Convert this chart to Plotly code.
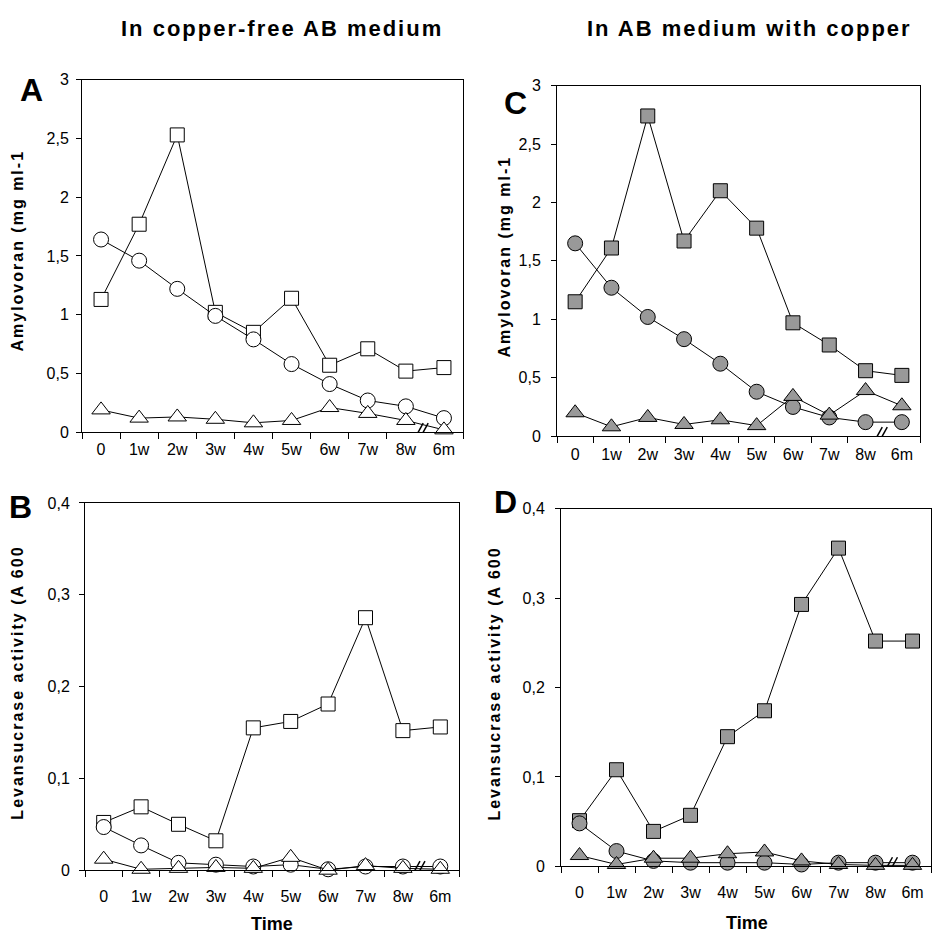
import plotly.graph_objects as go

# ---------------- data ----------------
time_labels = ["0", "1w", "2w", "3w", "4w", "5w", "6w", "7w", "8w", "6m"]

# Panel A: amylovoran, copper-free AB medium
amy_free_square = [1.13, 1.77, 2.53, 1.02, 0.85, 1.14, 0.57, 0.71, 0.52, 0.55]
amy_free_circle = [1.64, 1.46, 1.22, 0.99, 0.79, 0.58, 0.41, 0.27, 0.22, 0.12]
amy_free_triangle = [0.19, 0.12, 0.13, 0.11, 0.08, 0.10, 0.21, 0.16, 0.10, 0.02]

# Panel B: levansucrase, copper-free AB medium
lev_free_square = [0.052, 0.069, 0.050, 0.032, 0.155, 0.162, 0.181, 0.275, 0.152, 0.156]
lev_free_circle = [0.047, 0.027, 0.008, 0.006, 0.004, 0.006, 0.001, 0.004, 0.004, 0.004]
lev_free_triangle = [0.012, 0.001, 0.002, 0.003, 0.002, 0.014, 0.000, 0.005, 0.002, 0.001]

# Panel C: amylovoran, AB medium with copper
amy_cu_square = [1.15, 1.61, 2.74, 1.67, 2.10, 1.78, 0.97, 0.78, 0.56, 0.52]
amy_cu_circle = [1.65, 1.27, 1.02, 0.83, 0.62, 0.38, 0.25, 0.16, 0.12, 0.12]
amy_cu_triangle = [0.20, 0.08, 0.16, 0.10, 0.14, 0.09, 0.34, 0.18, 0.39, 0.26]

# Panel D: levansucrase, AB medium with copper
lev_cu_square = [0.051, 0.108, 0.039, 0.057, 0.145, 0.174, 0.293, 0.356, 0.252, 0.252]
lev_cu_circle = [0.048, 0.017, 0.006, 0.004, 0.004, 0.004, 0.002, 0.004, 0.004, 0.004]
lev_cu_triangle = [0.012, 0.002, 0.009, 0.009, 0.014, 0.016, 0.006, 0.002, 0.001, 0.001]

panel_letters = ["A", "B", "C", "D"]
column_titles = ["In copper-free AB medium", "In AB medium with copper"]
amy_title = "Amylovoran (mg ml-1"
lev_title = "Levansucrase activity (A 600"
x_title = "Time"

# ---------------- layout ----------------
W, H = 934, 944
FONT = "Arial, Liberation Sans, sans-serif"
x_idx = list(range(len(time_labels)))


def px_x(v):
    return v / W


def px_y(v):
    return 1 - v / H


fig = go.Figure()

# (x axis, y axis, label axis, square, circle, triangle, fill)
panels = [
    ("x", "y", "x5", amy_free_square, amy_free_circle, amy_free_triangle, "white"),
    ("x2", "y2", "x6", lev_free_square, lev_free_circle, lev_free_triangle, "white"),
    ("x3", "y3", "x7", amy_cu_square, amy_cu_circle, amy_cu_triangle, "#999999"),
    ("x4", "y4", "x8", lev_cu_square, lev_cu_circle, lev_cu_triangle, "#999999"),
]

for xa, ya, xl, sq, ci, tr, fill in panels:
    # empty helper trace so that the overlaid label axis gets drawn
    fig.add_trace(go.Scatter(
        x=x_idx, y=[None] * len(x_idx), xaxis=xl, yaxis=ya, mode="lines",
        showlegend=False, hoverinfo="skip",
    ))
    for vals, sym, size in ((sq, "square", 14), (ci, "circle", 15), (tr, "triangle-up", 16)):
        fig.add_trace(go.Scatter(
            x=x_idx, y=vals, xaxis=xa, yaxis=ya, mode="lines+markers",
            line=dict(color="black", width=1),
            marker=dict(symbol=sym, size=size, color=fill,
                        line=dict(color="black", width=1)),
            cliponaxis=False, showlegend=False, hoverinfo="skip",
        ))

# domains in pixels: (left, right, top, bottom)
dom = {
    "1": (82, 463, 73, 432),
    "2": (85, 459, 504, 878),
    "3": (557, 920, 79, 436),
    "4": (561, 931, 510, 874),
}
yranges = {"1": [0, 3], "2": [0, 0.4], "3": [0, 3], "4": [0, 0.4]}
ydticks = {"1": 0.5, "2": 0.1, "3": 0.5, "4": 0.1}
xstandoff = {"1": 6, "2": 15, "3": 7, "4": 15}
ystandoff = {"1": 4, "2": 6, "3": 7, "4": 7}

tick_bounds = [i - 0.5 for i in x_idx[:-1]] + [x_idx[-1] + 0.5]

layout = dict(
    width=W, height=H, autosize=False,
    margin=dict(l=0, r=0, t=0, b=0),
    paper_bgcolor="white", plot_bgcolor="white",
    separators=",.",
    font=dict(family=FONT, color="black", size=16),
    showlegend=False,
)

for k, (l, r, t, b) in dom.items():
    sfx = "" if k == "1" else k
    lbl = str(int(k) + 4)
    layout["xaxis" + sfx] = dict(
        domain=[px_x(l), px_x(r)], anchor="y" + sfx, range=[-0.5, 9.5],
        tickmode="array", tickvals=tick_bounds, ticktext=[""] * len(tick_bounds),
        ticks="outside", ticklen=6, tickwidth=1, tickcolor="black",
        showline=True, linecolor="black", linewidth=1, mirror=True,
        showgrid=False, zeroline=False, fixedrange=True,
    )
    layout["xaxis" + lbl] = dict(
        overlaying="x" + sfx, anchor="y" + sfx, range=[-0.5, 9.5],
        tickmode="array", tickvals=x_idx, ticktext=time_labels,
        ticks="", showline=False, showgrid=False, zeroline=False,
        ticklabelstandoff=xstandoff[k],
        tickfont=dict(family=FONT, size=16, color="black"), fixedrange=True,
    )
    layout["yaxis" + sfx] = dict(
        domain=[px_y(b), px_y(t)], anchor="x" + sfx, range=yranges[k],
        tick0=0, dtick=ydticks[k],
        ticks="outside", ticklen=5, tickwidth=1, tickcolor="black",
        showline=True, linecolor="black", linewidth=1, mirror=True,
        showgrid=False, zeroline=False, ticklabelstandoff=ystandoff[k],
        tickfont=dict(family=FONT, size=16, color="black"), fixedrange=True,
    )

fig.update_layout(**layout)

# axis break marks "//" between 8w and 6m
shapes = []
for k in dom:
    sfx = "" if k == "1" else k
    for off in (0, 5):
        shapes.append(dict(
            type="line", xref="x" + sfx, yref="y" + sfx,
            xsizemode="pixel", xanchor=8.35, x0=-6 + off, x1=4 + off,
            ysizemode="pixel", yanchor=0, y0=-9, y1=9,
            line=dict(color="black", width=1.5), layer="above",
        ))
fig.update_layout(shapes=shapes)

ann = []
# column titles
for txt, cx in zip(column_titles, (282, 749)):
    ann.append(dict(
        text='<span style="letter-spacing:2px">' + txt + '</span>',
        x=px_x(cx), y=px_y(21), xref="paper", yref="paper",
        showarrow=False, xanchor="center", yanchor="middle",
        font=dict(family=FONT, size=22, color="black", weight="bold"),
    ))
# panel letters
for letter, (cx, cy) in zip(panel_letters, ((31, 83), (20, 508), (515, 97), (505, 503))):
    ann.append(dict(
        text=letter, x=px_x(cx), y=px_y(cy), xref="paper", yref="paper",
        showarrow=False, xanchor="center", yanchor="middle",
        font=dict(family=FONT, size=32, color="black", weight="bold"),
    ))
# y titles
for txt, cx, cy in ((amy_title, 18, 247), (lev_title, 18, 687),
                    (amy_title, 504, 253), (lev_title, 495, 688)):
    ann.append(dict(
        text='<span style="letter-spacing:2px">' + txt + '</span>',
        x=px_x(cx), y=px_y(cy), xref="paper", yref="paper", textangle=-90,
        showarrow=False, xanchor="center", yanchor="middle",
        font=dict(family=FONT, size=16, color="black", weight="bold"),
    ))
# x titles
for cx, cy in ((272, 933), (747, 932)):
    ann.append(dict(
        text=x_title,
        x=px_x(cx), y=px_y(cy), xref="paper", yref="paper",
        showarrow=False, xanchor="center", yanchor="middle",
        font=dict(family=FONT, size=18, color="black", weight="bold"),
    ))
fig.update_layout(annotations=ann)

fig.write_html("out.html")
